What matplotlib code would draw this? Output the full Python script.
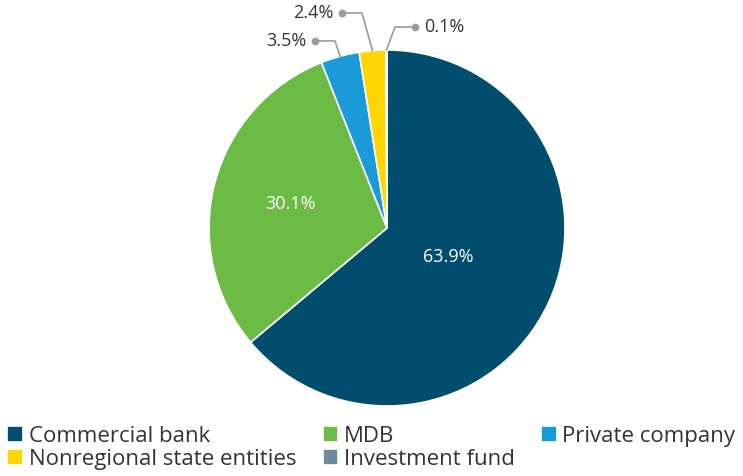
import matplotlib.pyplot as plt
import numpy as np

labels = ["Commercial bank", "MDB", "Private company",
          "Nonregional state entities", "Investment fund"]
shares = [63.9, 30.1, 3.5, 2.4, 0.1]
colors = ["#004d6d", "#6cbb45", "#1a9ad6", "#ffd600", "#7189a0"]

plt.rcParams['font.family'] = ['Open Sans', 'DejaVu Sans']

fig = plt.figure(figsize=(7.43, 4.76), dpi=100)
cx, cy, r = 387, 228, 178
ax = fig.add_axes([(cx - r) / 743, (476 - cy - r) / 476, 2 * r / 743, 2 * r / 476])

wedges, _ = ax.pie(shares, colors=colors, startangle=90, counterclock=False,
                   wedgeprops=dict(edgecolor="white", linewidth=1.2))
ax.set_xlim(-1, 1)
ax.set_ylim(-1, 1)
ax.set_aspect("equal")

# mid angles of each wedge
mids = [np.deg2rad((w.theta1 + w.theta2) / 2) for w in wedges]

# labels inside the two big slices
for i, rr in [(0, 0.38), (1, 0.56)]:
    ax.text(rr * np.cos(mids[i]), rr * np.sin(mids[i]), f"{shares[i]}%",
            color="white", fontsize=13, ha="center", va="center")

# leader lines for the small slices: (dot x, dot y, side)
leaders = {2: (-0.404, 1.051, -1), 3: (-0.253, 1.208, -1), 4: (0.157, 1.129, 1)}
for i, (dx, dy, side) in leaders.items():
    sx, sy = np.cos(mids[i]), np.sin(mids[i])
    ex = dx - side * 0.112
    ax.plot([sx, ex, dx], [sy, dy, dy], color="#9a9a9a", lw=1.2, clip_on=False)
    ax.plot([dx], [dy], "o", color="#9a9a9a", ms=4.5, clip_on=False)
    ax.text(dx + side * 0.05, dy, f"{shares[i]}%", fontsize=13, color="#333333",
            ha="left" if side > 0 else "right", va="center", clip_on=False)

order = [0, 3, 1, 4, 2]
fig.legend([wedges[k] for k in order], [labels[k] for k in order],
           ncol=3, loc="lower left", bbox_to_anchor=(-0.008, -0.015), frameon=False,
           fontsize=16, handlelength=0.7, handleheight=0.7, handletextpad=0.25,
           columnspacing=1.2, labelspacing=0.1, borderaxespad=0.2,
           labelcolor="#333333")

fig.savefig("out.png", dpi=100)
